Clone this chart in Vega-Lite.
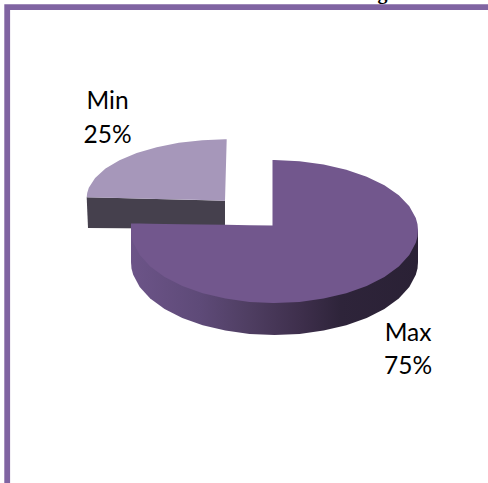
{
  "$schema": "https://vega.github.io/schema/vega-lite/v6.json",
  "width": 488,
  "height": 483,
  "padding": 0,
  "autosize": {"type": "none"},
  "background": "#ffffff",
  "config": {"view": {"stroke": null}},
  "datasets": {
    "frame": [
      {"i": 1, "u": 216, "v": 222.8},
      {"i": 2, "u": -265.3, "v": 222.8},
      {"i": 3, "u": -265.3, "v": -254}
    ],
    "minWall": [
      {"u": -185.8, "v": 32.7, "v2": 32.7},
      {"u": -184.5, "v": 32.7, "v2": 2},
      {"u": -47.5, "v": 29.3, "v2": 1}
    ],
    "minFace": [
      {"u": -185.8, "v": 32.7, "v2": 32.7},
      {"u": -185.3, "v": 37.1, "v2": 32.7},
      {"u": -183.7, "v": 42.2, "v2": 32.6},
      {"u": -177.4, "v": 52.1, "v2": 32.5},
      {"u": -167.0, "v": 61.4, "v2": 32.2},
      {"u": -153.0, "v": 69.7, "v2": 31.9},
      {"u": -135.8, "v": 77.0, "v2": 31.5},
      {"u": -115.8, "v": 82.8, "v2": 31.0},
      {"u": -93.7, "v": 87.2, "v2": 30.4},
      {"u": -70.2, "v": 89.8, "v2": 29.9},
      {"u": -47.5, "v": 90.7, "v2": 29.3},
      {"u": -45.8, "v": 90.7, "v2": 90.7}
    ],
    "maxWall": [
      {"u": -141.5, "v": 0, "v2": -32},
      {"u": -141.0, "v": 0, "v2": -38.4},
      {"u": -139.3, "v": 0, "v2": -44.7},
      {"u": -132.8, "v": 0, "v2": -57.0},
      {"u": -122.3, "v": 0, "v2": -68.5},
      {"u": -107.9, "v": 0, "v2": -78.9},
      {"u": -90.2, "v": 0, "v2": -87.9},
      {"u": -69.8, "v": 0, "v2": -95.2},
      {"u": -47.1, "v": 0, "v2": -100.6},
      {"u": -23.0, "v": 0, "v2": -103.9},
      {"u": 2, "v": 0, "v2": -105},
      {"u": 27, "v": 0, "v2": -103.9},
      {"u": 51.1, "v": 0, "v2": -100.6},
      {"u": 73.8, "v": 0, "v2": -95.2},
      {"u": 94.2, "v": 0, "v2": -87.9},
      {"u": 111.9, "v": 0, "v2": -78.9},
      {"u": 126.3, "v": 0, "v2": -68.5},
      {"u": 136.8, "v": 0, "v2": -57.0},
      {"u": 143.3, "v": 0, "v2": -44.7},
      {"u": 145.0, "v": 0, "v2": -38.4},
      {"u": 145.5, "v": 0, "v2": -32}
    ],
    "maxFace": [
      {"u": -141.5, "v": 6.5, "v2": 0},
      {"u": -141.0, "v": 6.5, "v2": -6.4},
      {"u": -139.3, "v": 6.5, "v2": -12.7},
      {"u": -132.8, "v": 6.4, "v2": -25.0},
      {"u": -122.3, "v": 6.2, "v2": -36.5},
      {"u": -107.9, "v": 6.0, "v2": -46.9},
      {"u": -90.2, "v": 5.8, "v2": -55.9},
      {"u": -69.8, "v": 5.5, "v2": -63.2},
      {"u": -47.1, "v": 5.2, "v2": -68.6},
      {"u": -23.0, "v": 4.8, "v2": -71.9},
      {"u": 0, "v": 4.5, "v2": -73},
      {"u": 0, "v": 70, "v2": -73},
      {"u": 2, "v": 70, "v2": -73},
      {"u": 27, "v": 68.8, "v2": -71.9},
      {"u": 51.1, "v": 65.5, "v2": -68.6},
      {"u": 73.8, "v": 60.3, "v2": -63.2},
      {"u": 94.2, "v": 53.3, "v2": -55.9},
      {"u": 111.9, "v": 44.7, "v2": -46.9},
      {"u": 126.3, "v": 34.8, "v2": -36.5},
      {"u": 136.8, "v": 23.8, "v2": -25.0},
      {"u": 143.3, "v": 12.1, "v2": -12.7},
      {"u": 145.0, "v": 5.8, "v2": -6.4},
      {"u": 145.5, "v": 0, "v2": 0}
    ],
    "slices": [
      {"name": "Min", "share": 0.25, "u": -165, "nameV": 121, "shareV": 87},
      {"name": "Max", "share": 0.75, "u": 135.5, "nameV": -111, "shareV": -144}
    ],
    "heading": [
      {"text": "g", "u": 110, "v": 231}
    ]
  },
  "encoding": {
    "x": {"field": "u", "type": "quantitative", "axis": null, "scale": {"domain": [-272.5, 215.5], "nice": false, "zero": false}},
    "y": {"field": "v", "type": "quantitative", "axis": null, "scale": {"domain": [-253, 230], "nice": false, "zero": false}}
  },
  "layer": [
    {
      "data": {"name": "frame"},
      "mark": {"type": "line", "color": "#8064A2", "strokeWidth": 5.8, "strokeJoin": "miter", "strokeCap": "butt", "clip": false},
      "encoding": {"order": {"field": "i", "type": "ordinal"}}
    },
    {
      "data": {"name": "heading"},
      "mark": {"type": "text", "font": "Liberation Serif", "fontWeight": "bold", "fontSize": 20, "align": "center", "baseline": "alphabetic", "color": "#000000"},
      "encoding": {"text": {"field": "text", "type": "nominal"}}
    },
    {
      "data": {"name": "minWall"},
      "mark": {"type": "area", "color": "#45404D"},
      "encoding": {"y2": {"field": "v2"}}
    },
    {
      "data": {"name": "minFace"},
      "mark": {"type": "area", "color": "#A697BA"},
      "encoding": {"y2": {"field": "v2"}}
    },
    {
      "data": {"name": "maxWall"},
      "mark": {
        "type": "area",
        "color": {
          "gradient": "linear", "x1": 0, "y1": 0, "x2": 1, "y2": 0,
          "stops": [
            {"offset": 0, "color": "#6C5488"},
            {"offset": 0.24, "color": "#5E4A78"},
            {"offset": 0.41, "color": "#4F3E62"},
            {"offset": 0.59, "color": "#3E2F4C"},
            {"offset": 0.73, "color": "#2E243A"},
            {"offset": 1, "color": "#2A2135"}
          ]
        }
      },
      "encoding": {"y2": {"field": "v2"}}
    },
    {
      "data": {"name": "maxFace"},
      "mark": {"type": "area", "color": "#72578D"},
      "encoding": {"y2": {"field": "v2"}}
    },
    {
      "data": {"name": "slices"},
      "mark": {"type": "text", "font": "Lato", "fontSize": 24.5, "align": "center", "baseline": "alphabetic", "color": "#000000"},
      "encoding": {
        "y": {"field": "nameV", "type": "quantitative"},
        "text": {"field": "name", "type": "nominal"}
      }
    },
    {
      "data": {"name": "slices"},
      "mark": {"type": "text", "font": "Lato", "fontSize": 24.5, "align": "center", "baseline": "alphabetic", "color": "#000000"},
      "encoding": {
        "y": {"field": "shareV", "type": "quantitative"},
        "text": {"field": "share", "type": "quantitative", "format": ".0%"}
      }
    }
  ]
}
